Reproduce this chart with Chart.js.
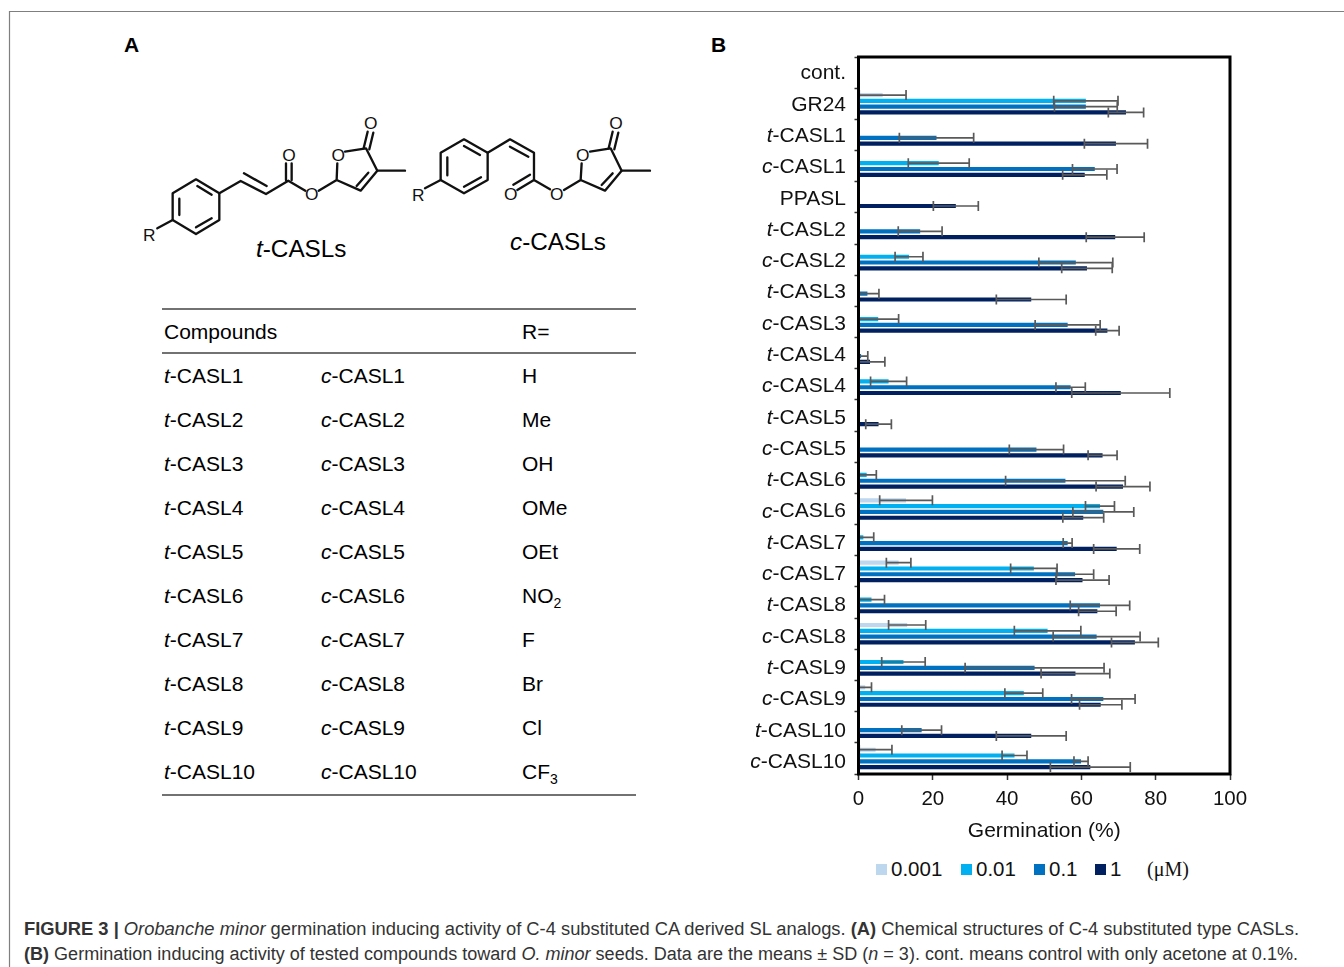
<!DOCTYPE html>
<html>
<head>
<meta charset="utf-8">
<title>Germination inducing activity</title>
<script src="https://cdn.jsdelivr.net/npm/chart.js@4"></script>
<style>
    body { margin: 0; background: #fff; width: 1344px; height: 967px; overflow: hidden; position: relative; font-family: "Liberation Sans", Arial, sans-serif; color: #111; }
    #page-art { position: absolute; left: 0; top: 0; }
    #chart-b { position: absolute; left: 700px; top: 40px; }
    .bond { fill: none; stroke: #111; stroke-width: 7; stroke-linecap: round; stroke-linejoin: round; }
    .atom { font-size: 52px; text-anchor: middle; dominant-baseline: central; fill: #111; }
    .legend-box { position: absolute; top: 864px; width: 11px; height: 11px; }
    .legend-text { position: absolute; top: 857px; font-size: 20.5px; line-height: 24px; }
</style>
</head>
<body>
<svg id="page-art" width="1344" height="967" xmlns="http://www.w3.org/2000/svg">
    <path d="M9.5 967V11.5H1344" fill="none" stroke="#7f7f7f" stroke-width="1.2"/>
    <text x="124" y="52" font-size="21" font-weight="bold">A</text>
    <text x="711" y="52" font-size="21" font-weight="bold">B</text>

    <!-- t-CASL structure -->
    <g transform="translate(120,100) scale(0.3333)">
        <path class="bond" d="M228 238L298 280V360L228 402L158 360V280Z"/>
        <path class="bond" d="M178 296V345M232 258L275 284M228 382L275 355"/>
        <path class="bond" d="M158 360L112 385M298 280L362 243L438 282L505 242L556 272M372 220L440 258"/>
        <path class="bond" d="M498 240V190M515 240V190"/>
        <path class="bond" d="M596 272L650 240L722 272L772 212L738 145L675 155M650 240L652 190M745 218L710 258"/>
        <path class="bond" d="M731 145L743 95M748 148L760 98M772 212H855"/>
        <text class="atom" x="88" y="405">R</text>
        <text class="atom" x="507" y="165">O</text>
        <text class="atom" x="575" y="283">O</text>
        <text class="atom" x="655" y="165">O</text>
        <text class="atom" x="752" y="70">O</text>
    </g>
    <text x="256" y="257" font-size="24.3"><tspan font-style="italic">t</tspan>-CASLs</text>

    <!-- c-CASL structure -->
    <g transform="translate(400,100) scale(0.3333)">
        <path class="bond" d="M192 118L263 158V240L192 280L122 240V158Z"/>
        <path class="bond" d="M142 172V226M192 138L240 165M192 260L243 232"/>
        <path class="bond" d="M122 240L75 265M263 158L330 118L402 158V240L450 268M330 140L385 170"/>
        <path class="bond" d="M402 240L352 270M390 224L340 254"/>
        <path class="bond" d="M492 270L542 240L615 272L665 212L632 145L570 155M542 240L545 190M638 220L605 255"/>
        <path class="bond" d="M626 145L638 95M643 148L655 98M665 212H750"/>
        <text class="atom" x="55" y="285">R</text>
        <text class="atom" x="332" y="283">O</text>
        <text class="atom" x="470" y="283">O</text>
        <text class="atom" x="548" y="165">O</text>
        <text class="atom" x="648" y="70">O</text>
    </g>
    <text x="510" y="250" font-size="24.3"><tspan font-style="italic">c</tspan>-CASLs</text>

    <!-- compound table, rows are added by the script -->
    <g id="compound-table" font-size="21">
        <path d="M162 309H636M162 353H636M162 795H636" stroke="#444" stroke-width="1.3" fill="none"/>
        <text x="164" y="338.5">Compounds</text>
        <text x="522" y="338.5">R=</text>
    </g>

    <!-- caption -->
    <g font-size="18" fill="#333">
        <text x="24" y="934.5" textLength="1275" lengthAdjust="spacingAndGlyphs"><tspan font-weight="bold">FIGURE 3 | </tspan><tspan font-style="italic">Orobanche minor</tspan> germination inducing activity of C-4 substituted CA derived SL analogs. <tspan font-weight="bold">(A)</tspan> Chemical structures of C-4 substituted type CASLs.</text>
        <text x="24" y="960" textLength="1274" lengthAdjust="spacingAndGlyphs"><tspan font-weight="bold">(B)</tspan> Germination inducing activity of tested compounds toward <tspan font-style="italic">O. minor</tspan> seeds. Data are the means ± SD (<tspan font-style="italic">n</tspan> = 3). cont. means control with only acetone at 0.1%.</text>
    </g>
</svg>

<canvas id="chart-b" width="600" height="804"></canvas>
<div id="legend-b"></div>

<script>
const categories = ['cont.', 'GR24', 't-CASL1', 'c-CASL1', 'PPASL', 't-CASL2', 'c-CASL2', 't-CASL3', 'c-CASL3',
    't-CASL4', 'c-CASL4', 't-CASL5', 'c-CASL5', 't-CASL6', 'c-CASL6', 't-CASL7', 'c-CASL7',
    't-CASL8', 'c-CASL8', 't-CASL9', 'c-CASL9', 't-CASL10', 'c-CASL10'];
const doseLabels = ['0.001', '0.01', '0.1', '1'];
const doseColors = ['#BDD7EE', '#00B0F0', '#0070C0', '#002060'];
const xTicks = [0, 20, 40, 60, 80, 100];

// Means and SD, same order as categories (null = no bar)
const mean0001 = [null, 6.5, null, null, null, null, null, null, null, null, null, null, null, null, 12.8, null, 10.8, null, 13.1, null, 1.8, null, 4.6];
const sd0001 = [null, 6.3, null, null, null, null, null, null, null, null, null, null, null, null, 7.1, null, 3.3, null, 5.0, null, 1.7, null, 4.4];
const mean001 = [null, 61.2, null, 21.6, null, null, 13.6, null, 5.3, null, 8.1, null, null, 2.2, 65.0, 1.3, 47.2, 3.5, 50.9, 12.1, 44.5, null, 42.0];
const sd001 = [null, 8.65, null, 8.2, null, null, 3.75, null, 5.5, null, 4.85, null, null, 2.6, 3.9, 2.8, 6.25, 3.5, 8.95, 5.85, 5.1, null, 3.35];
const mean01 = [null, 61.2, 21.0, 63.6, null, 16.6, 58.5, 2.4, 56.3, 0.7, 57.1, null, 47.9, 55.7, 65.9, 56.3, 58.3, 65.0, 64.1, 47.4, 65.9, 17.0, 59.9];
const sd01 = [null, 8.45, 10.0, 6.0, null, 5.9, 9.95, 3.1, 8.75, 1.8, 3.95, null, 7.3, 16.1, 8.2, 1.2, 5.0, 8.0, 11.7, 18.7, 8.55, 5.35, 1.9];
const mean1 = [null, 72.0, 69.3, 60.9, 26.2, 69.1, 61.5, 46.5, 67.0, 3.1, 70.6, 5.4, 65.7, 71.2, 60.5, 69.5, 60.3, 64.3, 74.4, 58.4, 65.2, 46.5, 62.4];
const sd1 = [null, 4.75, 8.5, 5.95, 6.05, 7.8, 6.8, 9.4, 3.15, 4.0, 13.2, 3.45, 3.9, 7.25, 5.5, 6.2, 7.15, 5.05, 6.3, 9.25, 5.7, 9.4, 10.75];

const allMeans = [mean0001, mean001, mean01, mean1];
const allSds = [sd0001, sd001, sd01, sd1];

const rowNames = ['1', '2', '3', '4', '5', '6', '7', '8', '9', '10'];
const rowGroups = ['H', 'Me', 'OH', 'OMe', 'OEt', 'NO|2', 'F', 'Br', 'Cl', 'CF|3'];

const FONT = '"Liberation Sans", Arial, sans-serif';

// Table rows in panel A
function fillCompoundTable() {
    const table = document.getElementById('compound-table');
    let markup = '';
    rowNames.forEach((name, i) => {
        const y = 382.5 + i * 44.1;
        const [group, sub] = rowGroups[i].split('|');
        const subMark = sub ? `<tspan font-size="14" dy="5">${sub}</tspan>` : '';
        markup += `<text x="164" y="${y}"><tspan font-style="italic">t</tspan>-CASL${name}</text>`;
        markup += `<text x="321" y="${y}"><tspan font-style="italic">c</tspan>-CASL${name}</text>`;
        markup += `<text x="522" y="${y}">${group}${subMark}</text>`;
    });
    table.insertAdjacentHTML('beforeend', markup);
}

// Compound names with the t- / c- prefix in italics
// (the labels in the figure run slightly wider than the ticks, hence the small drift)
const compoundLabels = {
    id: 'compoundLabels',
    afterDraw(chart) {
        const ctx = chart.ctx;
        const yScale = chart.scales.y;
        const right = chart.chartArea.left - 12.5;
        ctx.save();
        ctx.fillStyle = '#111';
        ctx.textBaseline = 'middle';
        ctx.textAlign = 'right';
        categories.forEach((label, i) => {
            const y = yScale.getPixelForValue(i) + 1 + i * 0.12;
            const match = label.match(/^([tc])(-.*)$/);
            ctx.font = `21px ${FONT}`;
            if (match) {
                ctx.fillText(match[2], right, y);
                const restWidth = ctx.measureText(match[2]).width;
                ctx.font = `italic 21px ${FONT}`;
                ctx.fillText(match[1], right - restWidth, y);
            } else {
                ctx.fillText(label, right, y);
            }
        });
        ctx.restore();
    }
};

// Error bars (mean +/- SD) and the heavy plot frame
const errorBars = {
    id: 'errorBars',
    afterDatasetsDraw(chart) {
        const ctx = chart.ctx;
        const xScale = chart.scales.x;
        const area = chart.chartArea;
        ctx.save();
        ctx.strokeStyle = '#595959';
        ctx.lineWidth = 1.7;
        chart.data.datasets.forEach((dataset, d) => {
            chart.getDatasetMeta(d).data.forEach((bar, i) => {
                if (dataset.data[i] === null) return;
                const sd = allSds[d][i];
                const low = dataset.data[i] - sd;
                const high = dataset.data[i] + sd;
                const xLow = xScale.getPixelForValue(Math.max(low, 0));
                const xHigh = xScale.getPixelForValue(high);
                ctx.beginPath();
                ctx.moveTo(xLow, bar.y);
                ctx.lineTo(xHigh, bar.y);
                ctx.moveTo(xHigh, bar.y - 5);
                ctx.lineTo(xHigh, bar.y + 5);
                if (low > 0) {
                    ctx.moveTo(xLow, bar.y - 5);
                    ctx.lineTo(xLow, bar.y + 5);
                }
                ctx.stroke();
            });
        });
        ctx.strokeStyle = '#000';
        ctx.lineWidth = 3;
        ctx.strokeRect(area.left, area.top, area.right - area.left, area.bottom - area.top);
        ctx.restore();
    }
};

function buildLegend() {
    const holder = document.getElementById('legend-b');
    const boxLefts = [876, 961, 1034, 1095];
    doseLabels.forEach((label, i) => {
        holder.insertAdjacentHTML('beforeend',
            `<div class="legend-box" style="left:${boxLefts[i]}px;background:${doseColors[i]}"></div>` +
            `<div class="legend-text" style="left:${boxLefts[i] + 15}px">${label}</div>`);
    });
    holder.insertAdjacentHTML('beforeend',
        '<div class="legend-text" style="left:1147px;font-family:\'Liberation Serif\',serif;font-size:20px">(\u03bcM)</div>');
}

new Chart(document.getElementById('chart-b').getContext('2d'), {
    type: 'bar',
    data: {
        labels: categories,
        datasets: doseLabels.map((label, i) => ({
            label: label,
            data: allMeans[i],
            backgroundColor: doseColors[i],
            categoryPercentage: 0.744,
            barPercentage: 0.72
        }))
    },
    options: {
        indexAxis: 'y',
        responsive: false,
        animation: false,
        layout: { padding: { top: 17, right: 70, left: 0, bottom: 0 } },
        plugins: {
            legend: { display: false },
            tooltip: { enabled: false }
        },
        scales: {
            x: {
                min: 0,
                max: 100,
                afterBuildTicks: scale => { scale.ticks = xTicks.map(v => ({ value: v })); },
                afterFit: scale => { scale.height = 70; },
                border: { display: false },
                grid: { drawOnChartArea: false, tickLength: 6, tickColor: '#333', tickWidth: 1.5 },
                ticks: { color: '#111', font: { size: 20.5, family: FONT }, padding: 7, maxRotation: 0 },
                title: {
                    display: true,
                    text: 'Germination (%)',
                    color: '#111',
                    font: { size: 21, family: FONT },
                    padding: { top: 2, bottom: 0 }
                }
            },
            y: {
                afterFit: scale => { scale.width = 158.5; },
                border: { display: false },
                grid: { drawOnChartArea: false, tickLength: 4, tickColor: '#333', tickWidth: 1.5 },
                ticks: { display: false }
            }
        }
    },
    plugins: [errorBars, compoundLabels]
});

fillCompoundTable();
buildLegend();
</script>
</body>
</html>
